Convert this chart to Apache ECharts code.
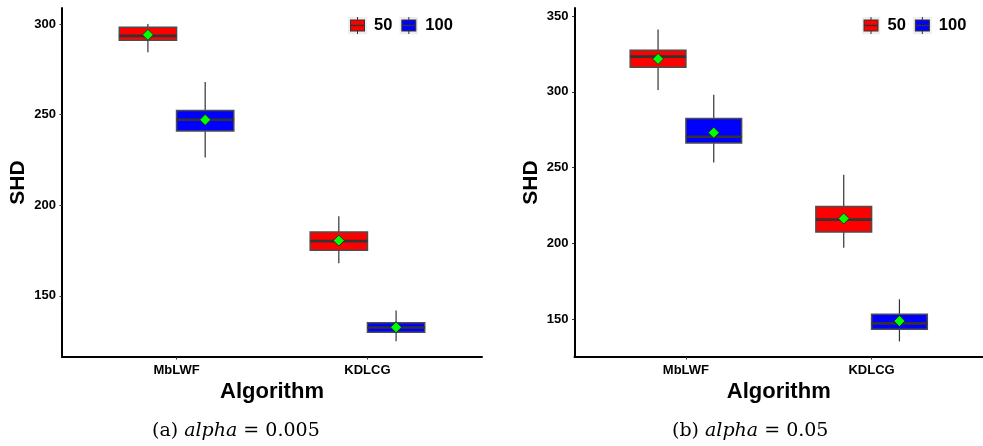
<!DOCTYPE html>
<html>
<head>
<meta charset="utf-8">
<script src="https://cdn.jsdelivr.net/npm/echarts@6/dist/echarts.min.js"></script>
<style>
html,body{margin:0;padding:0;background:#ffffff;}
#chart{width:983px;height:446px;}
</style>
</head>
<body>
<div id="chart"></div>
<script>
// ---------- data ----------
const categories = ['MbLWF', 'KDLCG'];
const groupNames = ['50', '100'];
const yTicksA = [150, 200, 250, 300];
const yTicksB = [150, 200, 250, 300, 350];
const yRangeA = [116.3, 308.8];
const yRangeB = [125.0, 355.4];
// each row: [min, Q1, median, Q3, max, mean] per category
const a50  = [[284.4, 291.0, 293.4, 298.2, 300.0, 294.0], [168.0, 175.2, 180.2, 185.2, 194.0, 180.5]];
const a100 = [[226.3, 241.0, 247.2, 252.2, 268.0, 247.1], [125.0, 129.9, 132.6, 135.2, 142.0, 132.7]];
const b50  = [[301.3, 316.3, 323.3, 327.5, 341.2, 321.8], [197.2, 207.6, 215.7, 224.3, 245.3, 216.4]];
const b100 = [[253.4, 266.3, 270.4, 282.5, 298.2, 273.1], [135.3, 143.3, 147.2, 153.2, 163.1, 148.7]];
const captionA = ['(a)', 'alpha', '= 0.005'];
const captionB = ['(b)', 'alpha', '= 0.05'];

// ---------- helpers ----------
const RED = '#FF0000', BLUE = '#0000FF';
function toData(rows) { return rows.map((r, i) => [i + 1].concat(r)); }

function makeRender(dodge, color) {
  return function (params, api) {
    const cx = api.value(0) + dodge;
    const hw = 0.15;
    const lo = api.value(1), q1 = api.value(2), med = api.value(3), q3 = api.value(4), hi = api.value(5), mean = api.value(6);
    const pTL = api.coord([cx - hw, q3]);
    const pBR = api.coord([cx + hw, q1]);
    const pMed = api.coord([cx, med]);
    const pHi = api.coord([cx, hi]);
    const pLo = api.coord([cx, lo]);
    const pMean = api.coord([cx, mean]);
    const xm = pMed[0];
    const d = 5.5;
    return {
      type: 'group',
      children: [
        { type: 'line', shape: { x1: xm, y1: pHi[1], x2: xm, y2: pTL[1] }, style: { stroke: '#333333', lineWidth: 1.2 } },
        { type: 'line', shape: { x1: xm, y1: pBR[1], x2: xm, y2: pLo[1] }, style: { stroke: '#333333', lineWidth: 1.2 } },
        { type: 'rect', shape: { x: pTL[0], y: pTL[1], width: pBR[0] - pTL[0], height: pBR[1] - pTL[1] },
          style: { fill: color, stroke: '#4d4d4d', lineWidth: 1.5 } },
        { type: 'line', shape: { x1: pTL[0], y1: pMed[1], x2: pBR[0], y2: pMed[1] }, style: { stroke: '#333333', lineWidth: 2.6 } },
        { type: 'polygon', shape: { points: [[xm, pMean[1] - d], [xm + d, pMean[1]], [xm, pMean[1] + d], [xm - d, pMean[1]]] },
          style: { fill: '#00FF00', stroke: '#1a1a1a', lineWidth: 0.8 } }
      ]
    };
  };
}

function keyIcon(fill) {
  const svg = '<svg xmlns="http://www.w3.org/2000/svg" width="19" height="18" viewBox="0 0 19 18">' +
    '<rect width="19" height="18" fill="#EEEEEE"/>' +
    '<line x1="9.5" y1="0.5" x2="9.5" y2="17.5" stroke="#333333" stroke-width="1"/>' +
    '<rect x="2.5" y="3.5" width="14" height="11" fill="' + fill + '" stroke="#333333" stroke-width="1"/>' +
    '<line x1="2.5" y1="9" x2="16.5" y2="9" stroke="#333333" stroke-width="1.5"/>' +
    '</svg>';
  return 'image://data:image/svg+xml;charset=utf-8,' + encodeURIComponent(svg);
}

function xAxisFor(gridIndex) {
  return {
    type: 'value', gridIndex: gridIndex, min: 0.4, max: 2.6,
    axisLine: { show: true, onZero: false, lineStyle: { color: '#000000', width: 2 } },
    axisTick: { show: true, customValues: [1, 2], length: 2.5, lineStyle: { color: '#333333', width: 1 } },
    axisLabel: { show: true, customValues: [1, 2], formatter: v => categories[Math.round(v) - 1] || '',
      color: '#000000', fontWeight: 'bold', fontSize: 13, fontFamily: 'Liberation Sans', margin: 6.5 },
    splitLine: { show: false },
    name: 'Algorithm', nameLocation: 'middle', nameGap: 19,
    nameTextStyle: { color: '#000000', fontWeight: 'bold', fontSize: 22, fontFamily: 'Liberation Sans' }
  };
}
function yAxisFor(gridIndex, range, ticks) {
  return {
    type: 'value', gridIndex: gridIndex, min: range[0], max: range[1],
    axisLine: { show: true, onZero: false, lineStyle: { color: '#000000', width: 2 } },
    axisTick: { show: true, customValues: ticks, length: 2.5, lineStyle: { color: '#333333', width: 1 } },
    axisLabel: { show: true, customValues: ticks, color: '#000000', fontWeight: 'bold', fontSize: 13,
      fontFamily: 'Liberation Sans', margin: 6 },
    splitLine: { show: false },
    name: 'SHD', nameLocation: 'middle', nameGap: 33, nameRotate: 90,
    nameTextStyle: { color: '#000000', fontWeight: 'bold', fontSize: 21, fontFamily: 'Liberation Sans' }
  };
}
function seriesFor(name, rows, gridIdx, dodge, color) {
  return {
    type: 'custom', name: name, xAxisIndex: gridIdx, yAxisIndex: gridIdx,
    data: toData(rows), encode: { x: 0, y: [1, 2, 3, 4, 5, 6] },
    itemStyle: { color: color }, renderItem: makeRender(dodge, color), clip: false, silent: true
  };
}
function legendFor(left) {
  return {
    left: left, top: 16.5, padding: 0, orient: 'horizontal', itemWidth: 19, itemHeight: 18, itemGap: 7,
    selectedMode: false,
    data: [{ name: groupNames[0], icon: keyIcon(RED) }, { name: groupNames[1], icon: keyIcon(BLUE) }],
    textStyle: { color: '#000000', fontWeight: 'bold', fontSize: 16.5, fontFamily: 'Liberation Sans', padding: [0, 0, 0, 2] }
  };
}
function captionFor(parts, left) {
  const base = { fontFamily: 'DejaVu Serif', fontSize: 19, color: '#000000', fontWeight: 'normal' };
  return {
    text: '{n|' + parts[0] + '} {i|' + parts[1] + '} {n|' + parts[2] + '}',
    left: left, top: 422, padding: 0,
    textStyle: Object.assign({}, base, {
      rich: { n: Object.assign({}, base), i: Object.assign({}, base, { fontStyle: 'italic' }) }
    })
  };
}

const chart = echarts.init(document.getElementById('chart'), null, { renderer: 'canvas' });
chart.setOption({
  backgroundColor: '#ffffff',
  animation: false,
  title: [captionFor(captionA, 152), captionFor(captionB, 672)],
  legend: [legendFor(348), legendFor(861.5)],
  grid: [
    { left: 62, top: 8, width: 420, height: 349, containLabel: false },
    { left: 574.5, top: 8, width: 420, height: 349, containLabel: false }
  ],
  xAxis: [xAxisFor(0), xAxisFor(1)],
  yAxis: [yAxisFor(0, yRangeA, yTicksA), yAxisFor(1, yRangeB, yTicksB)],
  series: [
    seriesFor(groupNames[0], a50, 0, -0.15, RED),
    seriesFor(groupNames[1], a100, 0, 0.15, BLUE),
    seriesFor(groupNames[0], b50, 1, -0.15, RED),
    seriesFor(groupNames[1], b100, 1, 0.15, BLUE)
  ]
});
</script>
</body>
</html>
